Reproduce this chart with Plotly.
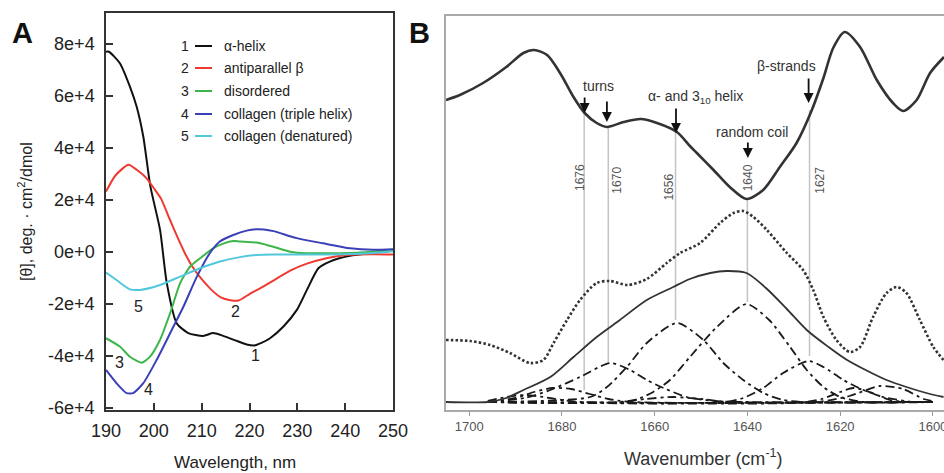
import plotly.graph_objects as go

W, H = 944, 473
def px(x):
    return x / W
def py(y):
    return 1 - y / H

# ---------------- Panel A: CD spectra (values in units of 1e4 deg·cm²/dmol) ----------------
wl_helix = [190, 190.6, 192.9, 195, 196.4, 197.8, 199.3, 201.3, 202.7, 204.8, 207.2, 210.3, 212.4,
            214.5, 217, 219.4, 221, 222.5, 224.3, 227.1, 229.9, 232, 234.4, 236.8, 241, 245.9, 250]
helix = [7.7, 7.7, 7.26, 6.36, 5.59, 4.43, 2.5, 0.85, -1.19, -2.75, -3.12, -3.23, -3.12,
         -3.23, -3.4, -3.56, -3.6, -3.5, -3.32, -2.87, -2.23, -1.46, -0.63, -0.37, -0.15, -0.03, 0.05]

wl_beta = [190, 192, 194.7, 196.5, 198.5, 200, 201.5, 203, 204.5, 206.5, 208, 210, 212, 214, 216,
           217.7, 220, 222.2, 225, 228.5, 232, 236.1, 240.3, 245.8, 250]
beta = [2.32, 2.95, 3.35, 3.15, 2.83, 2.45, 2.05, 1.4, 0.75, -0.05, -0.55, -1.05, -1.45, -1.75, -1.86,
        -1.87, -1.62, -1.4, -1.1, -0.72, -0.45, -0.24, -0.12, -0.09, -0.1]

wl_dis = [190, 192.9, 195, 197.5, 199.2, 201.3, 203.4, 205.5, 207.6, 209.7, 212.4, 214.5, 216.6,
          218, 221.5, 223.6, 225, 228.5, 232, 235, 239, 245.9, 250]
dis = [-3.32, -3.64, -4.03, -4.26, -4.03, -3.38, -2.36, -1.2, -0.56, -0.24, 0.14, 0.32, 0.42,
       0.4, 0.36, 0.27, 0.2, 0.01, -0.05, -0.05, -0.05, 0.01, 0.08]

wl_col = [190, 192.2, 194.3, 195.7, 197.8, 200.6, 203.4, 206.2, 209, 211.7, 213.8, 216.6, 219.4,
          221.5, 223, 225, 229.9, 235.4, 241, 245.9, 250]
col = [-4.54, -5.05, -5.43, -5.43, -5.05, -4.15, -3.13, -2.1, -0.95, -0.05, 0.4, 0.65, 0.82,
       0.87, 0.86, 0.8, 0.53, 0.33, 0.14, 0.08, 0.1]

wl_den = [190, 192.2, 195, 197.1, 201.3, 205.5, 209.7, 213.8, 218, 221.5, 225, 235, 245, 250]
den = [-0.79, -1.08, -1.44, -1.46, -1.27, -0.95, -0.63, -0.37, -0.2, -0.12, -0.1, -0.1, -0.05, 0.03]

series_names = ["α-helix", "antiparallel β", "disordered", "collagen (triple helix)", "collagen (denatured)"]
series_colors = ["#111111", "#ee3a30", "#3db54a", "#3a40b5", "#52c8dc"]
series_x = [wl_helix, wl_beta, wl_dis, wl_col, wl_den]
series_y = [helix, beta, dis, col, den]

a_xticks = [190, 200, 210, 220, 230, 240, 250]
a_yticks = [-6, -4, -2, 0, 2, 4, 6, 8]
a_yticktext = ["-6e+4", "-4e+4", "-2e+4", "0e+0", "2e+4", "4e+4", "6e+4", "8e+4"]

# curve number labels (wavelength, value)
curve_labels = ["1", "2", "3", "4", "5"]
curve_label_x = [221.2, 217.0, 192.9, 198.8, 196.8]
curve_label_y = [-4.0, -2.3, -4.27, -5.3, -2.1]

# ---------------- Panel B: FTIR amide I (arbitrary units) ----------------
wn_deriv = [1705, 1702, 1697, 1692, 1688.3, 1686, 1683.2, 1680.4, 1677.5, 1675.1, 1672.5, 1670.3,
            1666.7, 1663, 1659.5, 1655.2, 1652.4, 1650.9, 1647.3, 1643.8, 1640.2, 1636.6, 1633,
            1629.4, 1626.1, 1623.6, 1621.5, 1619, 1615.7, 1612.1, 1608.6, 1606.4, 1603.5, 1600.6, 1597.6]
deriv = [310, 315, 327, 343, 357, 360, 355, 337, 313, 297, 287, 283,
         288, 291, 287, 278, 264, 257, 240, 223, 211, 220, 243,
         267, 300, 332, 362, 378, 363, 330, 307, 299, 310, 337, 353]

wn_spec = [1705, 1699.8, 1695.5, 1691.2, 1686.9, 1684, 1681.8, 1678.9, 1676.1, 1672.5, 1669.6,
           1665.8, 1661.7, 1657.4, 1654.5, 1650.2, 1645.9, 1643, 1640.9, 1638.7, 1635.8, 1631.5,
           1628, 1625.8, 1623.6, 1620.8, 1617.9, 1615.7, 1612.9, 1610, 1607.8, 1605.7, 1602.8,
           1599.9, 1597.7]
spec = [70, 69, 65, 57, 47, 50, 67, 90, 110, 127, 129,
        125, 131, 147, 157, 167, 187, 197, 199, 193, 180, 157,
        140, 120, 93, 70, 58, 63, 93, 117, 123, 117, 90,
        63, 50]

wn_fit = [1705, 1696, 1692, 1688.3, 1682.5, 1677.5, 1672.5, 1667.5, 1661.7, 1656, 1652.4, 1648,
          1644.5, 1640.2, 1636, 1631.5, 1627.2, 1622.5, 1618.5, 1614.5, 1610, 1605.7, 1601.4, 1597.7]
fit = [8, 8, 12, 20, 33, 53, 73, 90, 110, 123, 131, 137,
       139, 137, 122, 101, 80, 63, 50, 40, 30, 23, 17, 13]

comp_wn = [
    [1696, 1692, 1688, 1684, 1680, 1676, 1600],                                   # ~1688
    [1696, 1690, 1686, 1682, 1678, 1674, 1670, 1665, 1600],                       # ~1680
    [1696, 1688, 1682.5, 1676.1, 1669.6, 1665.3, 1661.7, 1658.1, 1653.1, 1647, 1640, 1600],  # 1670
    [1696, 1673.9, 1670.3, 1666, 1661.7, 1655.2, 1649.5, 1645.2, 1640.9, 1636.6, 1632.3, 1628, 1600],  # 1656
    [1696, 1668, 1662, 1656, 1650, 1644, 1600],                                   # small ~1656
    [1696, 1666, 1663.1, 1660.3, 1656.7, 1652.4, 1646.6, 1640.2, 1635.3, 1630.8, 1627.2, 1623.6, 1620, 1615, 1600],  # 1640
    [1696, 1645, 1640.9, 1636.6, 1632.3, 1626.9, 1623.6, 1619.3, 1615, 1610.7, 1604.2, 1600],  # 1627
    [1696, 1628, 1624, 1620, 1617.2, 1613.6, 1609.3, 1605, 1600],                 # 1617
    [1696, 1625, 1618, 1611.4, 1606.4, 1602, 1600],                               # 1611
]
comp_val = [
    [9, 13, 15, 13, 10, 8, 8],
    [8, 12, 18, 22, 21, 16, 11, 8, 8],
    [8, 12, 20, 33, 47, 40, 30, 22, 13, 9, 8, 8],
    [8, 13, 23, 43, 67, 87, 70, 47, 30, 17, 10, 8, 8],
    [8, 8, 11, 13, 11, 8, 8],
    [8, 8, 12, 18, 30, 53, 83, 106, 90, 63, 40, 23, 13, 8, 8],
    [8, 8, 12, 22, 37, 49, 43, 30, 20, 13, 8, 8],
    [8, 8, 11, 18, 22, 18, 10, 8, 8],
    [8, 8, 14, 24, 21, 11, 9],
]

band_labels = ["1676", "1670", "1656", "1640", "1627"]
band_wn = [1675.2, 1670.0, 1655.5, 1640.0, 1626.6]
band_top = [297, 283, 278, 210, 300]
band_bottom = [20, 48, 90, 108, 54]
band_label_wn = [1676.1, 1668.2, 1657.0, 1639.8, 1624.4]
band_label_y = [232, 230, 223, 232, 230]

b_xticks = [1700, 1680, 1660, 1640, 1620, 1600]

FONT = "Liberation Sans, Arial, Helvetica, sans-serif"

fig = go.Figure()

# Panel A traces
for xs, ys, c in zip(series_x, series_y, series_colors):
    fig.add_trace(go.Scatter(x=xs, y=ys, mode="lines", xaxis="x", yaxis="y",
                             line=dict(color=c, width=2, shape="spline", smoothing=0.6),
                             showlegend=False, hoverinfo="skip"))

# Panel B band lines
for w, t, b in zip(band_wn, band_top, band_bottom):
    fig.add_trace(go.Scatter(x=[w, w], y=[b, t], mode="lines", xaxis="x2", yaxis="y2",
                             line=dict(color="#c4c4c4", width=1.5),
                             showlegend=False, hoverinfo="skip"))

for xs, ys in zip(comp_wn, comp_val):
    fig.add_trace(go.Scatter(x=xs, y=ys, mode="lines", xaxis="x2", yaxis="y2",
                             line=dict(color="#1a1a1a", width=1.8, dash="9px,4px,3px,4px",
                                       shape="spline", smoothing=0.7),
                             showlegend=False, hoverinfo="skip"))

fig.add_trace(go.Scatter(x=wn_fit, y=fit, mode="lines", xaxis="x2", yaxis="y2",
                         line=dict(color="#333333", width=1.8, shape="spline", smoothing=0.8),
                         showlegend=False, hoverinfo="skip"))
fig.add_trace(go.Scatter(x=wn_spec, y=spec, mode="lines", xaxis="x2", yaxis="y2",
                         line=dict(color="#333333", width=2.6, dash="2.5px,2.2px",
                                   shape="spline", smoothing=0.8),
                         showlegend=False, hoverinfo="skip"))
fig.add_trace(go.Scatter(x=wn_deriv, y=deriv, mode="lines", xaxis="x2", yaxis="y2",
                         line=dict(color="#333333", width=2.6, shape="spline", smoothing=0.8),
                         showlegend=False, hoverinfo="skip"))

annotations = []
shapes = []

def paper_text(x, y, text, size, color="#222", angle=0, xanchor="center", bold=False):
    return dict(x=px(x), y=py(y), xref="paper", yref="paper", text=text, showarrow=False,
                xanchor=xanchor, yanchor="middle", textangle=angle,
                font=dict(size=size, color=color, family=FONT))

# panel A curve number labels
for t, x, y in zip(curve_labels, curve_label_x, curve_label_y):
    annotations.append(dict(x=x, y=y, xref="x", yref="y", text=t, showarrow=False,
                            xanchor="center", yanchor="middle",
                            font=dict(size=16, color="#222", family=FONT)))

# panel A legend (manual)
leg_rows = [46, 68, 91, 114, 136]
for i, (name, c) in enumerate(zip(series_names, series_colors)):
    yy = leg_rows[i]
    annotations.append(paper_text(185, yy, str(i + 1), 14))
    shapes.append(dict(type="line", xref="paper", yref="paper", x0=px(195), x1=px(212),
                       y0=py(yy), y1=py(yy), line=dict(color=c, width=2)))
    annotations.append(paper_text(222, yy, name, 14, xanchor="left"))

# axis titles / panel letters
annotations += [
    paper_text(235, 462, "Wavelength, nm", 17),
    paper_text(25, 212, "[θ], deg. · cm<sup>2</sup>/dmol", 16, angle=-90),
    paper_text(703, 457, "Wavenumber (cm<sup>-1</sup>)", 18, color="#333"),
    paper_text(22, 33, "<b>A</b>", 29, color="#111"),
    paper_text(419, 33, "<b>B</b>", 29, color="#111"),
]

# panel B band number labels (vertical)
for t, x, y in zip(band_labels, band_label_wn, band_label_y):
    annotations.append(dict(x=x, y=y, xref="x2", yref="y2", text=t, showarrow=False,
                            xanchor="center", yanchor="middle",
                            textangle=-90, font=dict(size=12, color="#555", family=FONT)))

# panel B structure labels and arrows
struct_labels = ["turns", "α- and 3<sub>10</sub> helix", "random coil", "β-strands"]
struct_x = [1672.2, 1651.3, 1639.1, 1631.5]
struct_y = [324, 313, 278, 344]
for t, x, y in zip(struct_labels, struct_x, struct_y):
    annotations.append(dict(x=x, y=y, xref="x2", yref="y2", text=t, showarrow=False,
                            xanchor="center", yanchor="middle",
                            font=dict(size=14, color="#333", family=FONT)))

arrow_x = [1675.1, 1670.3, 1655.4, 1639.9, 1626.8]
arrow_tip = [297, 288, 277, 252, 307]
arrow_len = [17, 22, 26, 17, 26]
for x, y, l in zip(arrow_x, arrow_tip, arrow_len):
    annotations.append(dict(x=x, y=y, xref="x2", yref="y2", text="", showarrow=True,
                            ax=0, ay=-l, arrowhead=2, arrowsize=1.1, arrowwidth=1.8,
                            arrowcolor="#111"))

fig.update_layout(
    width=W, height=H, margin=dict(l=0, r=0, t=0, b=0, autoexpand=False),
    paper_bgcolor="white", plot_bgcolor="white",
    font=dict(family=FONT),
    xaxis=dict(domain=[px(106), px(393)], range=[190, 250], anchor="y", automargin=False,
               tickvals=a_xticks, ticks="inside", ticklen=7, tickwidth=1.5, tickcolor="#333",
               showline=True, linecolor="#333", linewidth=1.5, mirror=True,
               showgrid=False, zeroline=False, ticklabelstandoff=4,
               tickfont=dict(size=18, color="#222", family=FONT)),
    yaxis=dict(domain=[py(410), py(13)], range=[-6.08, 9.19], anchor="x", automargin=False,
               tickvals=a_yticks, ticktext=a_yticktext, ticks="inside", ticklen=7, tickwidth=1.5,
               tickcolor="#333", showline=True, linecolor="#333", linewidth=1.5, mirror=True,
               showgrid=False, zeroline=False, ticklabelstandoff=6,
               tickfont=dict(size=18, color="#222", family=FONT)),
    xaxis2=dict(domain=[px(446), 1.0], range=[1705, 1597.6], anchor="y2", automargin=False,
                tickvals=b_xticks, ticks="outside", ticklen=4, tickwidth=1, tickcolor="#999",
                showline=True, linecolor="#aaa", linewidth=1.5, mirror=True,
                showgrid=False, zeroline=False, ticklabeloverflow="allow",
                tickfont=dict(size=13, color="#555", family=FONT)),
    yaxis2=dict(domain=[py(410), py(16)], range=[0, 394], anchor="x2", automargin=False,
                showticklabels=False, ticks="", showline=True, linecolor="#aaa", linewidth=1.5,
                showgrid=False, zeroline=False),
    annotations=annotations, shapes=shapes,
)

fig.write_html("out.html", config={"displayModeBar": False},
               post_script="document.body.style.margin='0';document.body.style.overflow='hidden';")
